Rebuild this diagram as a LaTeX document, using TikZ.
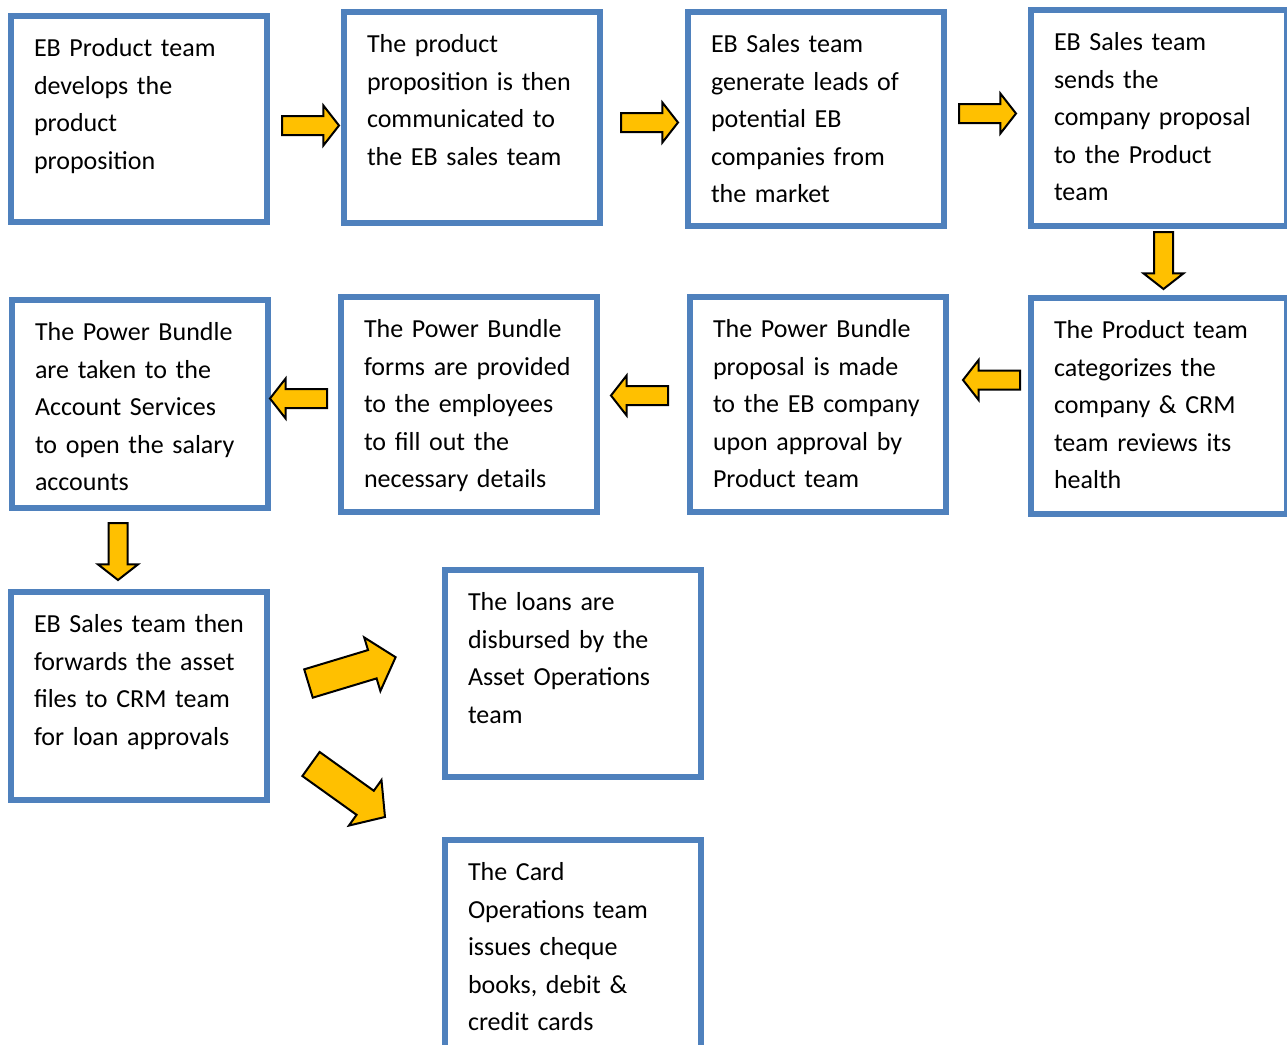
\documentclass[tikz,border=0pt]{standalone}
\usepackage{fontspec}
\setmainfont{Carlito}
\usepackage{tikz}
\usetikzlibrary{shapes,arrows}
\definecolor{boxblue}{HTML}{4F81BD}
\definecolor{arrowgold}{HTML}{FFC000}

\begin{document}
\begin{tikzpicture}[x=0.5pt, y=-0.5pt,
    block_stage/.style ={rectangle, draw=boxblue, line width=3pt, fill=white,
      anchor=north west, text width=105pt, align=left, inner sep=11.5pt,
      outer sep=0pt, text height=8.8pt, text depth=#1,
      font=\fontsize{13pt}{18.75pt}\selectfont},
    block_arrow/.style ={single arrow, draw=black, line width=1pt, fill=arrowgold,
      anchor=tail, minimum height=28.5pt, minimum width=19pt, inner xsep=0pt,
      inner ysep=4.25pt, outer sep=0pt,
      single arrow head extend=5.25pt, single arrow tip angle=104},
    block_bigarrow/.style ={block_arrow, minimum height=45.5pt, minimum width=27pt,
      inner ysep=6.9pt, single arrow head extend=6.6pt, single arrow tip angle=98}]
    \useasboundingbox (0,0) rectangle (1287,1045);
    % row 1
    \node [block_stage=71.2pt] (develop_product) at (11,16) {EB Product team\\develops the\\product\\proposition};
    \node [block_stage=73.7pt] (communicate_sales) at (344,12) {The product\\proposition is then\\communicated to\\the EB sales team};
    \node [block_stage=75.2pt] (generate_leads) at (688,12) {EB Sales team\\generate leads of\\potential EB\\companies from\\the market};
    \node [block_stage=76.2pt] (send_proposal) at (1031,10) {EB Sales team\\sends the\\company proposal\\to the Product\\team};
    % row 2
    \node [block_stage=76.2pt] (review_health) at (1031,298) {The Product team\\categorizes the\\company \& CRM\\team reviews its\\health};
    \node [block_stage=75.7pt] (make_proposal) at (690,297) {The Power Bundle\\proposal is made\\to the EB company\\upon approval by\\Product team};
    \node [block_stage=75.7pt] (provide_forms) at (341,297) {The Power Bundle\\forms are provided\\to the employees\\to fill out the\\necessary details};
    \node [block_stage=72.2pt] (open_accounts) at (12,300) {The Power Bundle\\are taken to the\\Account Services\\to open the salary\\accounts};
    % row 3
    \node [block_stage=72.2pt] (forward_files) at (11,592) {EB Sales team then\\forwards the asset\\files to CRM team\\for loan approvals};
    \node [block_stage=71.7pt] (disburse_loans) at (445,570) {The loans are\\disbursed by the\\Asset Operations\\team};
    \node [block_stage=80pt] (issue_cards) at (445,840) {The Card\\Operations team\\issues cheque\\books, debit \&\\credit cards};
    % block arrows between the stages (placed by their tails)
    \node [block_arrow] (arrow_1) at (282,125.5) {};
    \node [block_arrow] (arrow_2) at (621,122.5) {};
    \node [block_arrow] (arrow_3) at (959,113.5) {};
    \node [block_arrow, rotate=-90] (arrow_4) at (1163.5,232) {};
    \node [block_arrow, rotate=180] (arrow_5) at (1020,380) {};
    \node [block_arrow, rotate=180] (arrow_6) at (668,395.5) {};
    \node [block_arrow, rotate=180] (arrow_7) at (327,398.5) {};
    \node [block_arrow, rotate=-90] (arrow_8) at (118,523) {};
    \node [block_bigarrow, rotate=16.8] (arrow_9) at (308.5,683.5) {};
    \node [block_bigarrow, rotate=-35.6] (arrow_10) at (311,764) {};
  \end{tikzpicture}
\end{document}
